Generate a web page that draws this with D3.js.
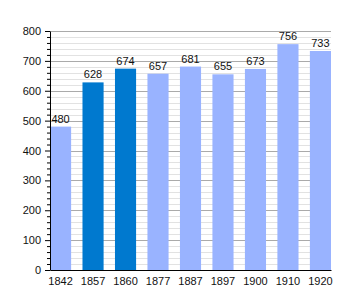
<!DOCTYPE html>
<html>
<head>
<meta charset="utf-8">
<script src="https://cdn.jsdelivr.net/npm/d3@7"></script>
<style>
body { margin: 0; background: #fff; }
text { font-family: "Liberation Sans", Arial, sans-serif; font-size: 11px; fill: #111; }
</style>
</head>
<body>
<div id="chart"></div>
<script>
let years = ["1842", "1857", "1860", "1877", "1887", "1897", "1900", "1910", "1920"];
let population = [480, 628, 674, 657, 681, 655, 673, 756, 733];
let highlighted = ["1857", "1860"];
let yTicks = [0, 100, 200, 300, 400, 500, 600, 700, 800];

let width = 360, height = 300;
let margin = { "top": 31, "bottom": 30, "right": 29, "left": 50 };

let svg = d3.select('#chart').append('svg').attr('width', width).attr('height', height);

let xScale = d3.scaleBand()
    .domain(years)
    .range([margin.left, width - margin.right])
    .paddingInner(0.35)
    .paddingOuter(0);
let yScale = d3.scaleLinear()
    .domain([0, 800])
    .range([height - margin.bottom, margin.top]);

// minor gridlines every 20
let minor = d3.range(20, 801, 20).filter(function (d) { return d % 100 !== 0; });
svg.append('g')
    .selectAll('line')
    .data(minor)
    .enter()
    .append('line')
    .attr('x1', margin.left)
    .attr('x2', width - margin.right)
    .attr('y1', function (d) { return Math.round(yScale(d)) + 0.5; })
    .attr('y2', function (d) { return Math.round(yScale(d)) + 0.5; })
    .attr('stroke', '#e2e2e2');

// major gridlines
svg.append('g')
    .selectAll('line')
    .data(yTicks.slice(1))
    .enter()
    .append('line')
    .attr('x1', margin.left)
    .attr('x2', width - margin.right)
    .attr('y1', function (d) { return Math.round(yScale(d)) + 0.5; })
    .attr('y2', function (d) { return Math.round(yScale(d)) + 0.5; })
    .attr('stroke', '#aaaaaa');

// bars
svg.append('g')
    .selectAll('rect')
    .data(population)
    .enter()
    .append('rect')
    .attr('x', function (d, i) { return xScale(years[i]); })
    .attr('y', function (d) { return yScale(d); })
    .attr('width', xScale.bandwidth())
    .attr('height', function (d) { return yScale(0) - yScale(d); })
    .attr('fill', function (d, i) {
        return highlighted.indexOf(years[i]) >= 0 ? '#0079cf' : '#99b3ff';
    });

// value labels
svg.append('g')
    .selectAll('text')
    .data(population)
    .enter()
    .append('text')
    .attr('x', function (d, i) { return xScale(years[i]) + xScale.bandwidth() / 2; })
    .attr('y', function (d) { return yScale(d) - 4; })
    .attr('text-anchor', 'middle')
    .text(function (d) { return d; });

// y axis minor ticks
svg.append('g')
    .attr('transform', 'translate(' + margin.left + ',0)')
    .call(d3.axisLeft(yScale).tickValues(minor).tickSize(3).tickFormat(''))
    .call(function (g) { g.select('.domain').remove(); });

// y axis
let yAxis = svg.append('g')
    .attr('transform', 'translate(' + margin.left + ',0)')
    .call(d3.axisLeft(yScale).tickValues(yTicks).tickSize(5).tickSizeOuter(0).tickPadding(4));
yAxis.selectAll('text').style('font-size', '11px');

// x axis
let xAxis = svg.append('g')
    .attr('transform', 'translate(0,' + yScale(0) + ')')
    .call(d3.axisBottom(xScale).tickSize(0).tickSizeOuter(0).tickPadding(7));
xAxis.selectAll('text').style('font-size', '11px');
</script>
</body>
</html>
